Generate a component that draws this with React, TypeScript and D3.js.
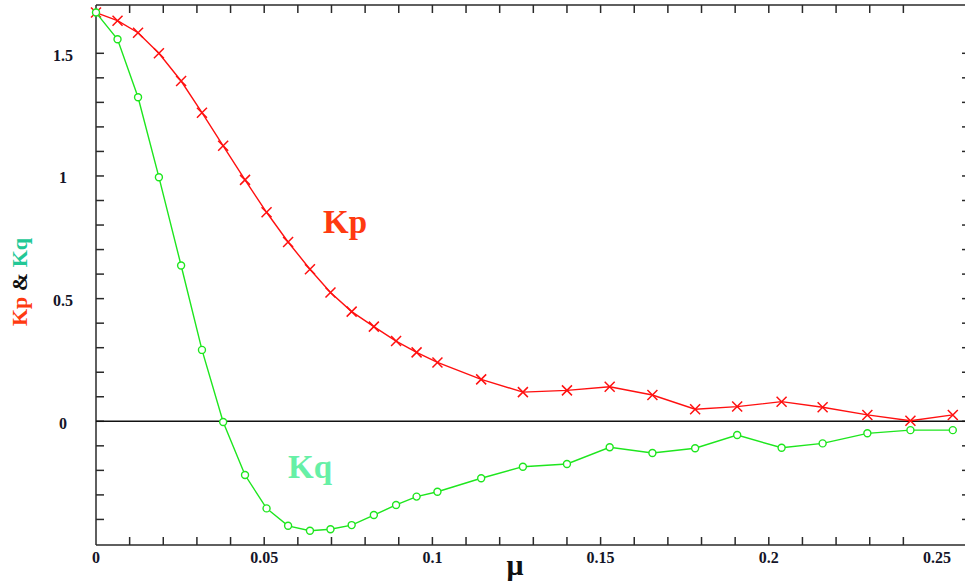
import * as d3 from 'd3';
import React from 'react';

// mu values of the samples
const mu = [
  0, 0.0064, 0.0125, 0.0187, 0.0253, 0.0315, 0.0378, 0.0443, 0.0507, 0.0571,
  0.0636, 0.0697, 0.076, 0.0826, 0.0892, 0.0953, 0.1015, 0.1145, 0.1269, 0.14,
  0.1527, 0.1654, 0.1781, 0.1906, 0.2038, 0.216, 0.2293, 0.2421, 0.2547
];
const kp = [
  1.666, 1.633, 1.584, 1.5, 1.387, 1.258, 1.123, 0.984, 0.852, 0.731,
  0.62, 0.525, 0.447, 0.386, 0.327, 0.281, 0.24, 0.171, 0.119, 0.126,
  0.141, 0.107, 0.049, 0.06, 0.08, 0.057, 0.026, 0.002, 0.026
];
const kq = [
  1.666, 1.557, 1.321, 0.995, 0.635, 0.291, -0.003, -0.219, -0.355, -0.426,
  -0.446, -0.44, -0.423, -0.382, -0.341, -0.307, -0.287, -0.232, -0.185, -0.174,
  -0.106, -0.129, -0.11, -0.056, -0.108, -0.09, -0.049, -0.036, -0.036
];
const xLabels = [0, 0.05, 0.1, 0.15, 0.2, 0.25];
const yLabels = [0, 0.5, 1, 1.5];
const xTicks = d3.range(1, 25).map((i) => i / 100);
const yTicks = d3.range(-4, 16).map((i) => i / 10);

const W = 965;
const H = 588;
const left = 96;
const right = 970;
const top = 5;
const bottom = 545;
const font = '"Liberation Serif", "Times New Roman", serif';

export default function App() {
  const x = d3.scaleLinear().domain([0, 0.25]).range([left, 937]);
  const y = d3.scaleLinear().domain([0, 1.5]).range([421.3, 53.3]);

  const pts = (vals: number[]) => mu.map((m, i) => [x(m), y(vals[i])] as [number, number]);
  const line = d3.line();
  const kpPts = pts(kp);
  const kqPts = pts(kq);
  const axisColor = '#2a2a2a';

  return (
    <svg width={W} height={H} style={{ position: 'absolute', left: 0, top: 0, background: '#fff' }}>
      {/* frame */}
      <g stroke={axisColor} strokeWidth={1.5} fill="none">
        <line x1={left} x2={right} y1={top} y2={top} />
        <line x1={left} x2={right} y1={bottom} y2={bottom} />
        <line x1={left} x2={left} y1={top} y2={bottom} />
        <line x1={right} x2={right} y1={top} y2={bottom} />
        {xTicks.map((t) => (
          <g key={'xt' + t}>
            <line x1={x(t)} x2={x(t)} y1={bottom} y2={bottom - 8} />
            <line x1={x(t)} x2={x(t)} y1={top} y2={top + 8} />
          </g>
        ))}
        {yTicks.map((t) => (
          <g key={'yt' + t}>
            <line x1={left} x2={left + 8} y1={y(t)} y2={y(t)} />
            <line x1={right} x2={right - 8} y1={y(t)} y2={y(t)} />
          </g>
        ))}
      </g>
      {/* zero line */}
      <line x1={left} x2={right} y1={y(0)} y2={y(0)} stroke="#111" strokeWidth={1.5} />

      {/* tick labels */}
      <g fontFamily={font} fontWeight="bold" fontSize={16} fill="#141428" textAnchor="middle">
        {xLabels.map((t) => (
          <text key={'xl' + t} x={x(t)} y={563}>
            {String(t)}
          </text>
        ))}
        {yLabels.map((t) => (
          <text key={'yl' + t} x={63} y={y(t) + 7.5}>
            {String(t)}
          </text>
        ))}
      </g>

      {/* Kp */}
      <path d={line(kpPts) || ''} fill="none" stroke="#ff1010" strokeWidth={1.4} />
      <g stroke="#ff1010" strokeWidth={1.5}>
        {kpPts.map(([px, py], i) => (
          <path key={'kp' + i} d={`M${px - 5},${py - 5}L${px + 5},${py + 5}M${px - 5},${py + 5}L${px + 5},${py - 5}`} />
        ))}
      </g>

      {/* Kq */}
      <path d={line(kqPts) || ''} fill="none" stroke="#1ee61e" strokeWidth={1.4} />
      <g stroke="#1ee61e" strokeWidth={1.4} fill="#fff">
        {kqPts.map(([px, py], i) => (
          <circle key={'kq' + i} cx={px} cy={py} r={3.5} />
        ))}
      </g>

      {/* series labels */}
      <text x={323} y={233} fontFamily={font} fontWeight="bold" fontSize={33} fill="#ff3a10">
        Kp
      </text>
      <text x={288} y={478} fontFamily={font} fontWeight="bold" fontSize={33} fill="#66f0a6">
        Kq
      </text>

      {/* axis titles */}
      <text x={515} y={575} fontFamily={font} fontWeight="bold" fontSize={30} fill="#111" textAnchor="middle">
        μ
      </text>
      <text
        transform="translate(27,282) rotate(-90)"
        fontFamily={font}
        fontWeight="bold"
        fontSize={22}
        textAnchor="middle"
      >
        <tspan fill="#ff3a10">Kp</tspan>
        <tspan fill="#111"> &amp; </tspan>
        <tspan fill="#22c896">Kq</tspan>
      </text>
    </svg>
  );
}
